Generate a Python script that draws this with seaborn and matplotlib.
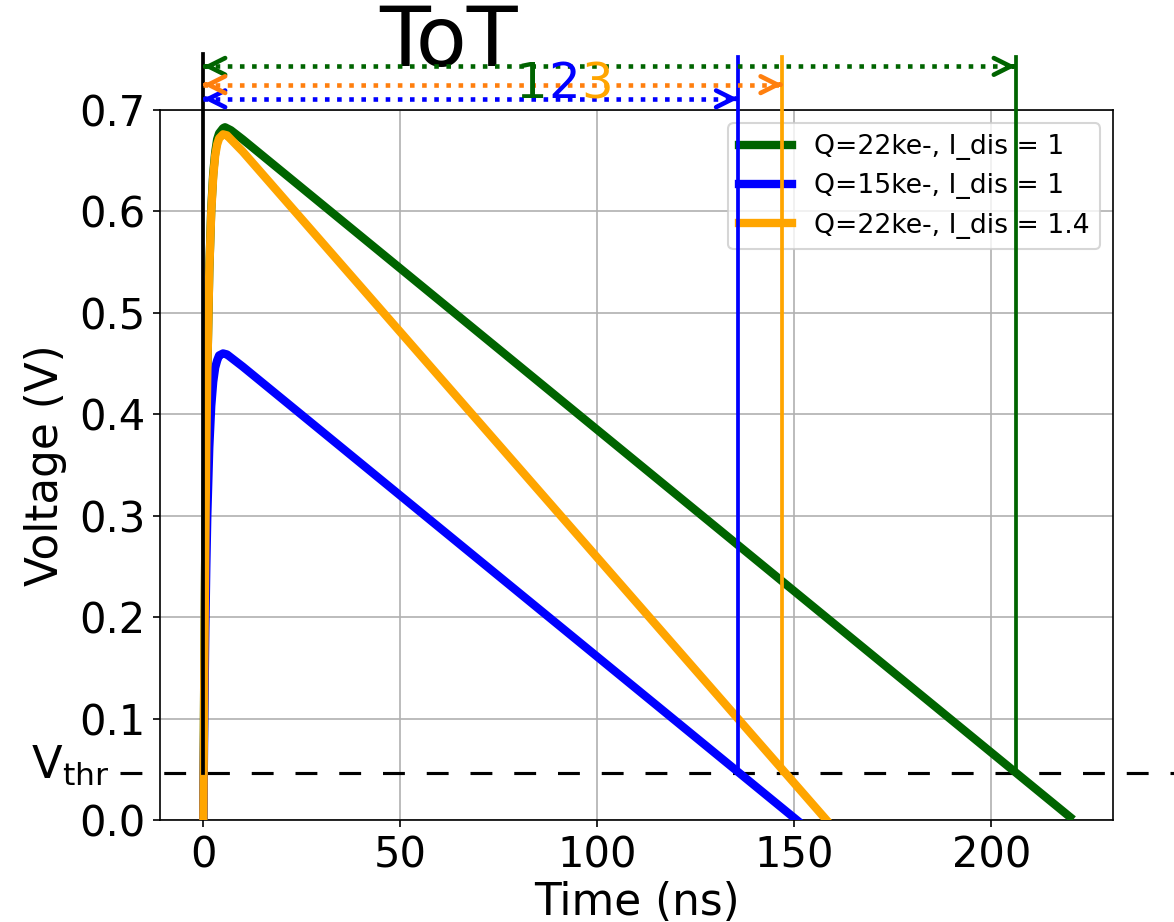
import matplotlib
matplotlib.use("Agg")
import matplotlib.pyplot as plt
import seaborn as sns
import pandas as pd

# Shaper output pulses for three charge / discharge-current settings
labels = ["Q=22ke-, I_dis = 1", "Q=15ke-, I_dis = 1", "Q=22ke-, I_dis = 1.4"]
colors = ["darkgreen", "blue", "orange"]
arrow_colors = ["darkgreen", "blue", "#ff7f0e"]

t_q22_i1 = [0, 0.25, 0.5, 0.75, 1, 1.5, 2, 2.5, 3, 3.5, 4, 5, 5.5, 6, 7, 8, 10, 220]
v_q22_i1 = [0, 0.155, 0.275, 0.369, 0.441, 0.541, 0.602, 0.637, 0.658, 0.671,
            0.677, 0.682, 0.683, 0.682, 0.680, 0.677, 0.671, 0.003]

t_q15_i1 = [0, 0.25, 0.5, 0.75, 1, 1.5, 2, 2.5, 3, 3.5, 4, 5, 6, 7, 8, 10, 156]
v_q15_i1 = [0, 0.105, 0.187, 0.250, 0.300, 0.367, 0.408, 0.432, 0.446, 0.453,
            0.458, 0.460, 0.459, 0.456, 0.453, 0.447, -0.017]

t_q22_i14 = [0, 0.25, 0.5, 0.75, 1, 1.5, 2, 2.5, 3, 3.5, 4, 5, 6, 7, 8, 10, 162]
v_q22_i14 = [0, 0.154, 0.274, 0.368, 0.440, 0.540, 0.599, 0.634, 0.655, 0.666,
             0.672, 0.676, 0.675, 0.671, 0.667, 0.659, -0.017]

# Threshold and time-over-threshold end points (ns)
v_thr = 0.046
tot_end = [206.2, 135.7, 147.0]
arrow_y = [0.743, 0.711, 0.725]
digit_text = ["1", "2", "3"]
digit_x = [83.3, 91.7, 100.0]

x_ticks = [0, 50, 100, 150, 200]
y_ticks = [0.0, 0.1, 0.2, 0.3, 0.4, 0.5, 0.6, 0.7]

series_t = [t_q22_i1, t_q15_i1, t_q22_i14]
series_v = [v_q22_i1, v_q15_i1, v_q22_i14]

DPI = 150
fig = plt.figure(figsize=(1174 / DPI, 922 / DPI), dpi=DPI)
ax = fig.add_axes([0.1363, 0.1106, 0.8120, 0.7701])

for t, v, c, lab in zip(series_t, series_v, colors, labels):
    df = pd.DataFrame({"Time (ns)": t, "Voltage (V)": v})
    sns.lineplot(data=df, x="Time (ns)", y="Voltage (V)", color=c, lw=4,
                 label=lab, sort=False, estimator=None, ax=ax, zorder=3)

ax.set_xlim(-11, 231)
ax.set_ylim(0, 0.7)
ax.set_xticks(x_ticks)
ax.set_yticks(y_ticks)
ax.grid(True, color="#b0b0b0", lw=0.8)
ax.set_axisbelow(True)
ax.tick_params(labelsize=20)
ax.set_xlabel("Time (ns)", fontsize=21, labelpad=2)
ax.set_ylabel("Voltage (V)", fontsize=21, labelpad=6)

# Threshold level, extending past the axes
ax.plot([-21.2, 250], [v_thr, v_thr], color="black", lw=1.5,
        linestyle=(0, (7, 7)), clip_on=False, zorder=2.5)
ax.text(-24, 0.041, r"$\mathregular{V_{thr}}$", fontsize=21.5, ha="right",
        va="baseline", clip_on=False)

# Start marker at t = 0 and end markers at each threshold crossing
ax.plot([0, 0], [v_thr, 0.755], color="black", lw=1.8, clip_on=False, zorder=6)
for x_end, c in zip(tot_end, colors):
    ax.plot([x_end, x_end], [v_thr, 0.752], color=c, lw=1.8, clip_on=False, zorder=6)

# Dotted ToT spans with open arrowheads
for x_end, y, c in zip(tot_end, arrow_y, arrow_colors):
    ax.plot([0, x_end], [y, y], color=c, lw=2.2, linestyle=":", clip_on=False, zorder=6)
    for tip, back in [(0, 0.6), (x_end, x_end - 0.6)]:
        ax.annotate("", xy=(tip, y), xytext=(back, y), annotation_clip=False,
                    arrowprops=dict(arrowstyle="->", color=c, lw=2.2,
                                    mutation_scale=20, shrinkA=0, shrinkB=0),
                    zorder=6)

ax.text(62.3, 0.743, "ToT", fontsize=40, ha="center", va="baseline", clip_on=False)
for s, x, c in zip(digit_text, digit_x, colors):
    ax.text(x, 0.7117, s, fontsize=24, color=c, ha="center", va="baseline",
            clip_on=False, zorder=7)

ax.legend(loc="upper right", fontsize=12.8, handlelength=2.0)

fig.savefig("out.png", dpi=DPI)
